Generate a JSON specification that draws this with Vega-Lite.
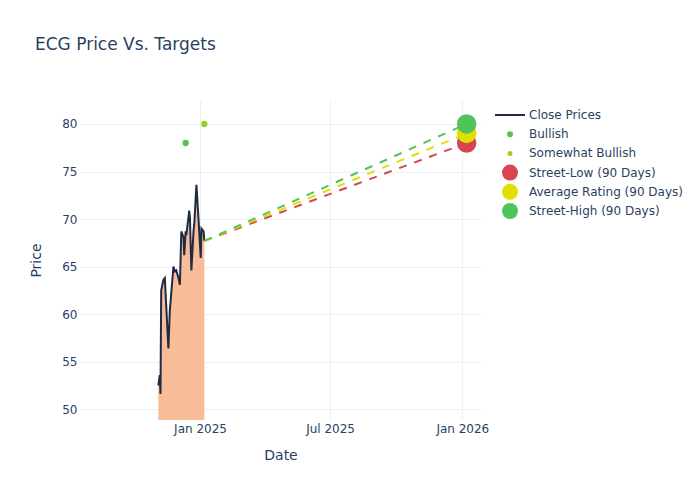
{
  "$schema": "https://vega.github.io/schema/vega-lite/v6.json",
  "width": 401,
  "height": 320,
  "autosize": {"type": "none"},
  "padding": {"left": 80, "top": 100, "right": 219, "bottom": 80},
  "background": "white",
  "title": {
    "text": "ECG Price Vs. Targets",
    "anchor": "start",
    "frame": "group",
    "dx": -45,
    "offset": 46,
    "font": "DejaVu Sans",
    "fontSize": 17,
    "fontWeight": "normal",
    "color": "#2a3f5f"
  },
  "datasets": {
    "prices": [
      {"date": "2024-11-04", "price": 52.5, "series": "Close Prices"},
      {"date": "2024-11-06", "price": 53.6, "series": "Close Prices"},
      {"date": "2024-11-07", "price": 51.6, "series": "Close Prices"},
      {"date": "2024-11-08", "price": 62.5, "series": "Close Prices"},
      {"date": "2024-11-11", "price": 63.6, "series": "Close Prices"},
      {"date": "2024-11-13", "price": 63.8, "series": "Close Prices"},
      {"date": "2024-11-18", "price": 56.4, "series": "Close Prices"},
      {"date": "2024-11-20", "price": 60.4, "series": "Close Prices"},
      {"date": "2024-11-21", "price": 61.3, "series": "Close Prices"},
      {"date": "2024-11-25", "price": 65.0, "series": "Close Prices"},
      {"date": "2024-11-27", "price": 64.5, "series": "Close Prices"},
      {"date": "2024-11-29", "price": 64.6, "series": "Close Prices"},
      {"date": "2024-12-02", "price": 63.8, "series": "Close Prices"},
      {"date": "2024-12-04", "price": 63.1, "series": "Close Prices"},
      {"date": "2024-12-06", "price": 68.7, "series": "Close Prices"},
      {"date": "2024-12-09", "price": 68.1, "series": "Close Prices"},
      {"date": "2024-12-10", "price": 66.2, "series": "Close Prices"},
      {"date": "2024-12-12", "price": 68.7, "series": "Close Prices"},
      {"date": "2024-12-13", "price": 68.3, "series": "Close Prices"},
      {"date": "2024-12-17", "price": 70.9, "series": "Close Prices"},
      {"date": "2024-12-18", "price": 70.1, "series": "Close Prices"},
      {"date": "2024-12-20", "price": 64.6, "series": "Close Prices"},
      {"date": "2024-12-23", "price": 68.8, "series": "Close Prices"},
      {"date": "2024-12-24", "price": 69.5, "series": "Close Prices"},
      {"date": "2024-12-27", "price": 73.6, "series": "Close Prices"},
      {"date": "2024-12-30", "price": 69.9, "series": "Close Prices"},
      {"date": "2025-01-02", "price": 65.9, "series": "Close Prices"},
      {"date": "2025-01-03", "price": 69.0, "series": "Close Prices"},
      {"date": "2025-01-06", "price": 68.7, "series": "Close Prices"},
      {"date": "2025-01-07", "price": 67.7, "series": "Close Prices"}
    ],
    "targetLines": [
      {"date": "2025-01-07", "price": 67.7, "series": "Street-Low (90 Days)"},
      {"date": "2026-01-07", "price": 78, "series": "Street-Low (90 Days)"},
      {"date": "2025-01-07", "price": 67.7, "series": "Average Rating (90 Days)"},
      {"date": "2026-01-07", "price": 79, "series": "Average Rating (90 Days)"},
      {"date": "2025-01-07", "price": 67.7, "series": "Street-High (90 Days)"},
      {"date": "2026-01-07", "price": 80, "series": "Street-High (90 Days)"}
    ],
    "ratings": [
      {"date": "2024-12-12", "price": 78, "series": "Bullish"},
      {"date": "2025-01-07", "price": 80, "series": "Somewhat Bullish"}
    ],
    "targets": [
      {"date": "2026-01-07", "price": 78, "series": "Street-Low (90 Days)"},
      {"date": "2026-01-07", "price": 79, "series": "Average Rating (90 Days)"},
      {"date": "2026-01-07", "price": 80, "series": "Street-High (90 Days)"}
    ]
  },
  "encoding": {
    "x": {
      "field": "date",
      "type": "temporal",
      "title": "Date",
      "scale": {"domain": ["2024-07-18", "2026-01-27"]},
      "axis": {
        "values": [
          {"year": 2025, "month": 1, "date": 1},
          {"year": 2025, "month": 7, "date": 1},
          {"year": 2026, "month": 1, "date": 1}
        ],
        "format": "%b %Y",
        "labelPadding": 3,
        "titlePadding": 14
      }
    },
    "y": {
      "field": "price",
      "type": "quantitative",
      "title": "Price",
      "scale": {"domain": [48.87, 82.52], "zero": false, "nice": false},
      "axis": {"values": [50, 55, 60, 65, 70, 75, 80], "labelPadding": 3, "titlePadding": 18}
    },
    "color": {
      "field": "series",
      "type": "nominal",
      "sort": null,
      "scale": {
        "domain": ["Close Prices", "Bullish", "Somewhat Bullish", "Street-Low (90 Days)", "Average Rating (90 Days)", "Street-High (90 Days)"],
        "range": ["#1f2a44", "#55c255", "#9acd32", "#d64550", "#e0e000", "#4fc45a"]
      },
      "legend": {
        "orient": "none",
        "legendX": 424,
        "legendY": 9,
        "title": null,
        "labelColor": "#2a3f5f",
        "labelFontSize": 12,
        "labelFont": "DejaVu Sans",
        "rowPadding": 3.2,
        "labelOffset": 13,
        "gridAlign": "all",
        "encode": {
          "symbols": {
            "update": {
              "shape": {"signal": "datum.value === 'Close Prices' ? 'stroke' : 'circle'"},
              "size": {"signal": "datum.value === 'Close Prices' ? 900 : datum.value === 'Bullish' ? 36 : datum.value === 'Somewhat Bullish' ? 25 : 256"},
              "fill": {"scale": "color", "field": "value"},
              "stroke": {"scale": "color", "field": "value"},
              "strokeWidth": {"signal": "datum.value === 'Close Prices' ? 2 : 0"},
              "opacity": {"value": 1}
            }
          }
        }
      }
    }
  },
  "layer": [
    {
      "data": {"name": "prices"},
      "mark": {"type": "area", "color": "#f8bc96", "opacity": 1, "clip": true, "interpolate": "linear"},
      "encoding": {"color": {"value": "#f8bc96"}}
    },
    {
      "data": {"name": "prices"},
      "mark": {"type": "line", "strokeWidth": 2, "clip": true}
    },
    {
      "data": {"name": "targetLines"},
      "mark": {"type": "line", "strokeWidth": 2, "strokeDash": [8, 8], "clip": true}
    },
    {
      "data": {"name": "ratings"},
      "mark": {"type": "point", "filled": true, "opacity": 1, "shape": "circle", "size": 40}
    },
    {
      "data": {"name": "targets"},
      "mark": {"type": "point", "filled": true, "opacity": 1, "shape": "circle", "size": 380}
    }
  ],
  "config": {
    "font": "DejaVu Sans",
    "view": {"stroke": null},
    "axis": {
      "domain": false,
      "ticks": false,
      "grid": true,
      "gridColor": "#ebf0f8",
      "gridWidth": 1,
      "labelColor": "#2a3f5f",
      "labelFontSize": 12,
      "labelFont": "DejaVu Sans",
      "titleColor": "#2a3f5f",
      "titleFontSize": 14,
      "titleFontWeight": "normal",
      "titleFont": "DejaVu Sans"
    }
  }
}
